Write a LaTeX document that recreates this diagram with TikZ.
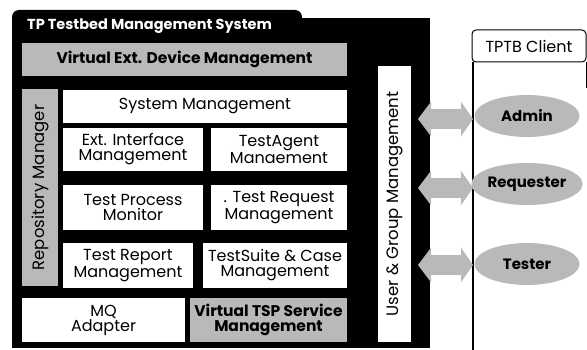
\documentclass[tikz,border=0pt]{standalone}
\usepackage{fontspec}
\setmainfont{Poppins}
\usetikzlibrary{arrows.meta,shapes.geometric}
\definecolor{dither}{RGB}{185,185,185}
\begin{document}
\begin{tikzpicture}[x=1pt,y=-1pt,
  txt/.style={font=\fontsize{16}{15}\selectfont},
  wbox/.style={fill=white, inner sep=0pt, align=center, txt},
  gbox/.style={fill=dither, inner sep=0pt, align=center, font=\bfseries\fontsize{15.5}{15}\selectfont},
  actor/.style={ellipse, fill=dither, inner sep=0pt, minimum width=105pt, minimum height=42pt, font=\bfseries\fontsize{15}{15}\selectfont},
  bigarrow/.style={draw=dither, line width=20pt, {Triangle[width=34pt,length=13pt]}-{Triangle[width=34pt,length=12pt]}}]
\useasboundingbox (0,0) rectangle (587,350);
% frame
\fill[black, rounded corners=7pt] (12,10) rectangle (302,40);
\fill[black] (12,18) rectangle (430,348);
\node[font=\bfseries\fontsize{14.5}{15}\selectfont, text=white, anchor=west, inner sep=0pt] (title) at (27,26) {TP Testbed Management System};
% boxes
\node[gbox, minimum width=325pt, minimum height=33pt] (vext) at (184.5,59.5) {Virtual Ext. Device Management};
\node[wbox, fill=dither, font=\fontsize{16.5}{15}\selectfont, minimum width=197pt, minimum height=36pt, rotate=90] (repo) at (40,187.5) {Repository Manager};
\node[wbox, minimum width=284pt, minimum height=33pt] (sysm) at (205,106.5) {System Management};
\node[wbox, minimum width=140pt, minimum height=43pt] (extif) at (133,149.5) {Ext. Interface\\Management};
\node[wbox, minimum width=136pt, minimum height=43pt] (agent) at (279,149.5) {TestAgent\\Manaement};
\node[wbox, minimum width=140pt, minimum height=45pt] (proc) at (133,207.5) {Test Process\\Monitor};
\node[wbox, minimum width=136pt, minimum height=45pt] (req) at (279,207.5) {. Test Request\\Management};
\node[wbox, minimum width=130pt, minimum height=45pt] (report) at (128,265.5) {Test Report\\Management};
\node[wbox, minimum width=144pt, minimum height=45pt] (suite) at (275,265.5) {TestSuite \& Case\\Management};
\node[wbox, minimum width=163pt, minimum height=44pt] (mq) at (103.5,320) {MQ\\Adapter};
\node[gbox, minimum width=157pt, minimum height=44pt] (vtsp) at (268.5,320) {Virtual TSP Service\\Management};
\node[wbox, font=\fontsize{16.5}{15}\selectfont, minimum width=276pt, minimum height=33pt, rotate=90] (user) at (394.5,204) {User \& Group Management};
% client
\node[draw=black, line width=1pt, fill=white, rounded corners=4pt, minimum width=114pt, minimum height=32pt, inner sep=0pt, font=\fontsize{16}{15}\selectfont] (client) at (529,46) {TPTB Client};
\coordinate (llend) at (473,350);
\draw[line width=1.2pt] (client.south west -| llend) -- (llend);
\coordinate (rrend) at (586,88);
\draw[line width=1pt] (client.south east) -- (client.south east |- rrend);
% actors
\node[actor] (admin) at (527,116) {Admin};
\node[actor] (requester) at (527,184) {Requester};
\node[actor] (tester) at (527,264) {Tester};
% arrows
\coordinate (a1) at (418,119);
\coordinate (a2) at (418,188);
\coordinate (a3) at (418,265);
\draw[bigarrow] (a1) -- (a1 -| llend);
\draw[bigarrow] (a2) -- (a2 -| llend);
\draw[bigarrow] (a3) -- (a3 -| llend);
\end{tikzpicture}
\end{document}
